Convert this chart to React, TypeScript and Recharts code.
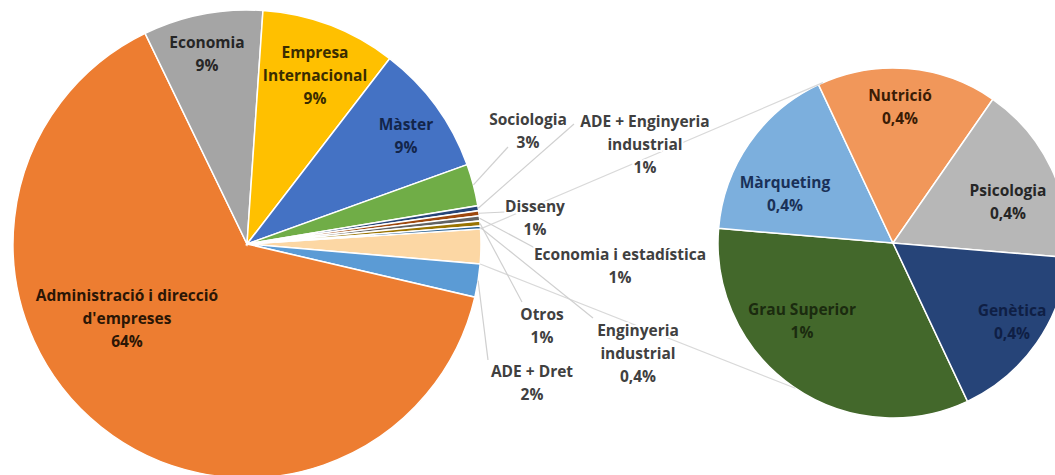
import React from "react";
import { PieChart, Pie, Cell } from "recharts";

// main pie, clockwise from the grouped slice
const mainNames = [
  "Altres",
  "ADE + Dret",
  "Administració i direcció d'empreses",
  "Economia",
  "Empresa Internacional",
  "Màster",
  "Sociologia",
  "ADE + Enginyeria industrial",
  "Disseny",
  "Economia i estadística",
  "Otros",
  "Enginyeria industrial",
];
const mainColors = [
  "#FCD7A4", "#5B9BD5", "#ED7D31", "#A5A5A5", "#FFC000", "#4472C4",
  "#70AD47", "#264478", "#9E480E", "#636363", "#997300", "#255E91",
];

// second pie (breakdown of "Altres"), clockwise
const subNames = ["Grau Superior", "Màrqueting", "Nutrició", "Psicologia", "Genètica"];
const subValues = [0.8, 0.4, 0.4, 0.4, 0.4];
const subLabels = ["1%", "0,4%", "0,4%", "0,4%", "0,4%"];
const subColors = ["#43682B", "#7CAFDD", "#F1975A", "#B7B7B7", "#264478"];

const mainValues = [
  subValues.reduce((a, b) => a + b, 0),
  2.3, 64.5, 8.3, 9.4, 9.1, 2.9, 0.35, 0.35, 0.35, 0.35, 0.2,
];
const mainLabels = ["", "2%", "64%", "9%", "9%", "9%", "3%", "1%", "1%", "1%", "1%", "0,4%"];

const mainData = mainNames.map((name, i) => ({ name, value: mainValues[i], pct: mainLabels[i] }));
const subData = subNames.map((name, i) => ({ name, value: subValues[i], pct: subLabels[i] }));

const MAIN = { cx: 247, cy: 244, r: 234 };
const SUB = { cx: 893, cy: 243, r: 175 };
const LH = 23;
const RAD = Math.PI / 180;

// label layout: text block centre, optional leader end, text colour
type Lay = { lines: string[]; x: number; y: number; to?: [number, number]; color: string; halo?: boolean };
const mainLayout: Record<string, Lay> = {
  "ADE + Dret": { lines: ["ADE + Dret"], x: 532, y: 382, to: [488, 360], color: "#404040", halo: true },
  "Administració i direcció d'empreses": { lines: ["Administració i direcció", "d'empreses"], x: 127, y: 318, color: "#2b1605" },
  Economia: { lines: ["Economia"], x: 207, y: 53, color: "#262626" },
  "Empresa Internacional": { lines: ["Empresa", "Internacional"], x: 315, y: 75, color: "#3a2c00" },
  "Màster": { lines: ["Màster"], x: 406, y: 135, color: "#13254a" },
  Sociologia: { lines: ["Sociologia"], x: 528, y: 130, to: [508, 147], color: "#404040", halo: true },
  "ADE + Enginyeria industrial": { lines: ["ADE + Enginyeria", "industrial"], x: 645, y: 144, to: [574, 124], color: "#404040", halo: true },
  Disseny: { lines: ["Disseny"], x: 535, y: 217, to: [505, 212], color: "#404040", halo: true },
  "Economia i estadística": { lines: ["Economia i estadística"], x: 620, y: 265, to: [535, 248], color: "#404040", halo: true },
  Otros: { lines: ["Otros"], x: 542, y: 325, to: [522, 302], color: "#404040", halo: true },
  "Enginyeria industrial": { lines: ["Enginyeria", "industrial"], x: 638, y: 353, to: [593, 318], color: "#404040", halo: true },
};
const subLayout: Record<string, Lay> = {
  "Grau Superior": { lines: ["Grau Superior"], x: 802, y: 320, color: "#1b2b0f" },
  "Màrqueting": { lines: ["Màrqueting"], x: 785, y: 193, color: "#1a3158" },
  "Nutrició": { lines: ["Nutrició"], x: 900, y: 106, color: "#3a1c05" },
  Psicologia: { lines: ["Psicologia"], x: 1008, y: 201, color: "#262626" },
  "Genètica": { lines: ["Genètica"], x: 1012, y: 321, color: "#0f1f45" },
};
// where the connector lines meet the second pie (screen angle, clockwise from east)
const SUB_TOP_ANGLE = 246.4;
const SUB_BOTTOM_ANGLE = 123.9;

const textStyle = { fontFamily: "'Open Sans', sans-serif", fontSize: 15.5, fontWeight: 700 };

function Block({ lay, pct }: { lay: Lay; pct: string }) {
  const lines = [...lay.lines, pct];
  const y0 = lay.y - ((lines.length - 1) * LH) / 2;
  return (
    <text
      x={lay.x}
      y={y0}
      textAnchor="middle"
      dominantBaseline="central"
      fill={lay.color}
      stroke={lay.halo ? "#fff" : "none"}
      strokeWidth={lay.halo ? 4 : 0}
      paintOrder="stroke"
      style={textStyle}
    >
      {lines.map((l, i) => (
        <tspan key={i} x={lay.x} y={y0 + i * LH}>
          {l}
        </tspan>
      ))}
    </text>
  );
}

const polar = (cx: number, cy: number, r: number, deg: number) => ({
  x: cx + r * Math.cos(-deg * RAD),
  y: cy + r * Math.sin(-deg * RAD),
});

const renderMainLabel = (props: any) => {
  const { cx, cy, outerRadius, midAngle, startAngle, endAngle, index, payload } = props;
  const name = payload?.name ?? props.name;
  if (index === 0) {
    // connectors from the grouped slice to the second pie
    const a = polar(cx, cy, outerRadius, startAngle);
    const b = polar(cx, cy, outerRadius, endAngle);
    const top = polar(SUB.cx, SUB.cy, SUB.r, -SUB_TOP_ANGLE);
    const bot = polar(SUB.cx, SUB.cy, SUB.r, -SUB_BOTTOM_ANGLE);
    const upper = a.y < b.y ? a : b;
    const lower = a.y < b.y ? b : a;
    return (
      <g>
        <line x1={upper.x} y1={upper.y} x2={top.x} y2={top.y} stroke="#D9D9D9" strokeWidth={1.2} />
        <line x1={lower.x} y1={lower.y} x2={bot.x} y2={bot.y} stroke="#D9D9D9" strokeWidth={1.2} />
      </g>
    );
  }
  const lay = mainLayout[name];
  if (!lay) return <g />;
  const p = polar(cx, cy, outerRadius, midAngle);
  return (
    <g>
      {lay.to && <line x1={p.x} y1={p.y} x2={lay.to[0]} y2={lay.to[1]} stroke="#D0D0D0" strokeWidth={1.2} />}
      <Block lay={lay} pct={payload?.pct ?? mainLabels[index]} />
    </g>
  );
};

const renderSubLabel = (props: any) => {
  const { index, payload } = props;
  const name = payload?.name ?? props.name;
  const lay = subLayout[name];
  if (!lay) return <g />;
  return <Block lay={lay} pct={payload?.pct ?? subLabels[index]} />;
};

export default function App() {
  return (
    <div style={{ position: "absolute", left: 0, top: 0, width: 1055, height: 475, background: "#fff", overflow: "hidden" }}>
      <PieChart width={1055} height={475} margin={{ top: 0, right: 0, bottom: 0, left: 0 }}>
        <Pie
          data={mainData}
          dataKey="value"
          nameKey="name"
          cx={MAIN.cx}
          cy={MAIN.cy}
          outerRadius={MAIN.r}
          startAngle={3.7}
          endAngle={-356.3}
          stroke="#fff"
          strokeWidth={1.5}
          label={renderMainLabel}
          labelLine={false}
          isAnimationActive={false}
        >
          {mainData.map((d, i) => (
            <Cell key={d.name} fill={mainColors[i]} />
          ))}
        </Pie>
        <Pie
          data={subData}
          dataKey="value"
          nameKey="name"
          cx={SUB.cx}
          cy={SUB.cy}
          outerRadius={SUB.r}
          startAngle={-64.8}
          endAngle={-424.8}
          stroke="#fff"
          strokeWidth={1.5}
          label={renderSubLabel}
          labelLine={false}
          isAnimationActive={false}
        >
          {subData.map((d, i) => (
            <Cell key={d.name} fill={subColors[i]} />
          ))}
        </Pie>
      </PieChart>
    </div>
  );
}
